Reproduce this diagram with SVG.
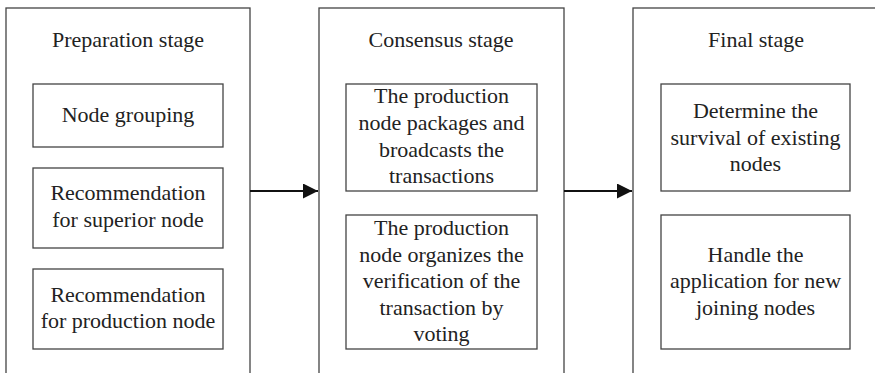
<svg xmlns="http://www.w3.org/2000/svg" width="875" height="373" viewBox="0 0 875 373">
<style>
.panel{fill:#fff;stroke:#444;stroke-width:1.3}
.box{fill:#fff;stroke:#444;stroke-width:1.3}
.t{font-size:22px;fill:#222;text-anchor:middle}
.conn{stroke:#111;stroke-width:2.2;fill:none}
</style>
<defs>
<marker id="ah" markerUnits="userSpaceOnUse" markerWidth="15" markerHeight="15" viewBox="0 0 15 15" refX="15" refY="7.5" orient="auto">
<path d="M0,0 L15,7.5 L0,15 Z" fill="#111"/>
</marker>
</defs>
<rect width="875" height="373" fill="#fff"/>
<g font-family="Liberation Serif, serif">
<g id="preparation-stage">
<rect class="panel" x="6" y="8" width="244" height="380"/>
<text class="t" x="128" y="47">Preparation stage</text>
</g>
<g id="node-grouping">
<rect class="box" x="33" y="84" width="190" height="63"/>
<text class="t" x="128" y="122">Node grouping</text>
</g>
<g id="rec-superior">
<rect class="box" x="33" y="168" width="190" height="80"/>
<text class="t" x="128" y="200">Recommendation</text>
<text class="t" x="128" y="227">for superior node</text>
</g>
<g id="rec-production">
<rect class="box" x="33" y="269" width="190" height="80"/>
<text class="t" x="128" y="302">Recommendation</text>
<text class="t" x="128" y="328">for production node</text>
</g>
<g id="consensus-stage">
<rect class="panel" x="319" y="8" width="245" height="380"/>
<text class="t" x="441" y="47">Consensus stage</text>
</g>
<g id="packages-broadcasts">
<rect class="box" x="346" y="84" width="191" height="107"/>
<text class="t" x="441.5" y="103">The production</text>
<text class="t" x="441.5" y="130">node packages and</text>
<text class="t" x="441.5" y="157">broadcasts the</text>
<text class="t" x="441.5" y="183">transactions</text>
</g>
<g id="verification-voting">
<rect class="box" x="346" y="215" width="191" height="134"/>
<text class="t" x="441.5" y="235">The production</text>
<text class="t" x="441.5" y="262">node organizes the</text>
<text class="t" x="441.5" y="288">verification of the</text>
<text class="t" x="441.5" y="315">transaction by</text>
<text class="t" x="441.5" y="341">voting</text>
</g>
<g id="final-stage">
<rect class="panel" x="633" y="8" width="260" height="380"/>
<text class="t" x="756" y="47">Final stage</text>
</g>
<g id="survival">
<rect class="box" x="661" y="84" width="189" height="107"/>
<text class="t" x="755.5" y="118">Determine the</text>
<text class="t" x="755.5" y="145">survival of existing</text>
<text class="t" x="755.5" y="171">nodes</text>
</g>
<g id="new-joining">
<rect class="box" x="661" y="215" width="189" height="134"/>
<text class="t" x="755.5" y="262">Handle the</text>
<text class="t" x="755.5" y="288">application for new</text>
<text class="t" x="755.5" y="315">joining nodes</text>
</g>
</g>
<g id="connectors">
<line class="conn" x1="250" y1="191" x2="318" y2="191" marker-end="url(#ah)"/>
<line class="conn" x1="564" y1="191" x2="632" y2="191" marker-end="url(#ah)"/>
</g>
</svg>
